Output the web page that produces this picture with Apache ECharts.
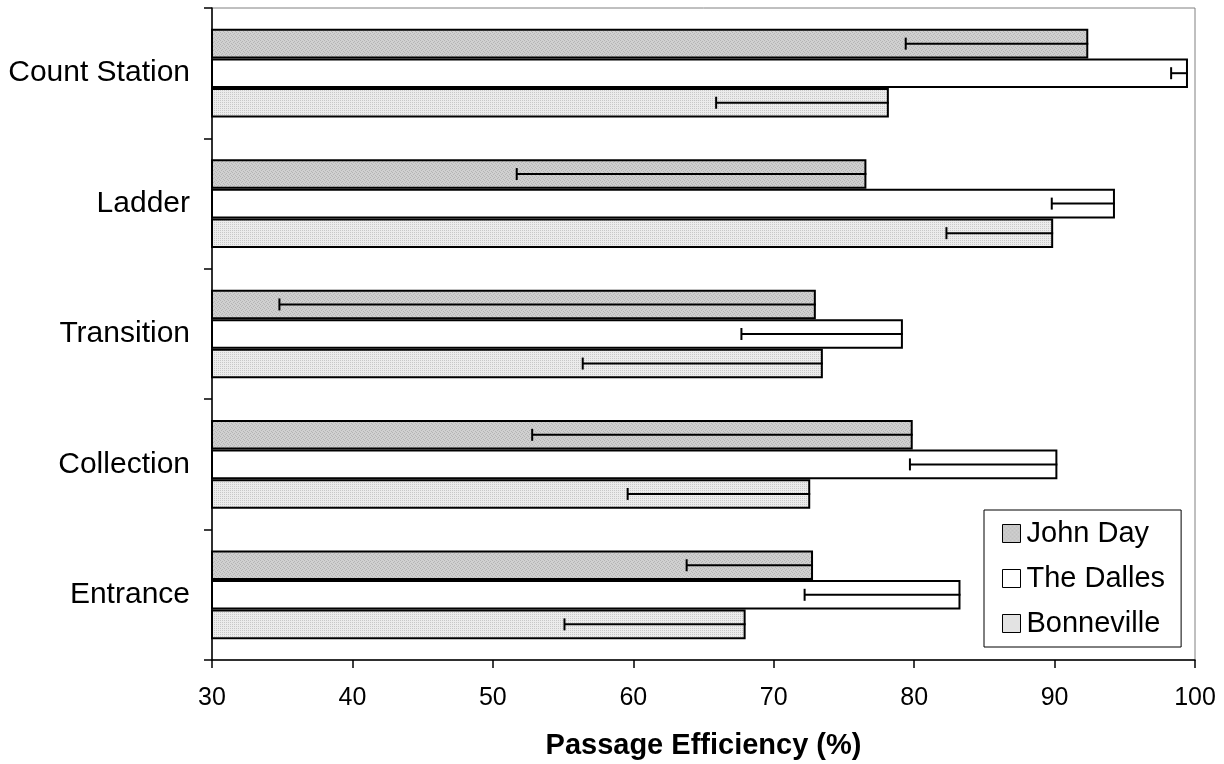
<!DOCTYPE html>
<html>
<head>
<meta charset="utf-8">
<script src="https://cdn.jsdelivr.net/npm/echarts@6/dist/echarts.min.js"></script>
<style>
html,body{margin:0;padding:0;background:#fff;}
#chart{width:1224px;height:764px;}
</style>
</head>
<body>
<div id="chart"></div>
<script>
// Data (bottom to top on the category axis)
const categories = ['Entrance', 'Collection', 'Transition', 'Ladder', 'Count Station'];
const seriesNames = ['John Day', 'The Dalles', 'Bonneville'];
const johnDay = [72.8, 79.9, 73.0, 76.6, 92.4];
const theDalles = [83.3, 90.2, 79.2, 94.3, 99.5];
const bonneville = [68.0, 72.6, 73.5, 89.9, 78.2];
// lower error bar ends
const johnDayLow = [63.8, 52.8, 34.8, 51.7, 79.4];
const theDallesLow = [72.2, 79.7, 67.7, 89.8, 98.3];
const bonnevilleLow = [55.1, 59.6, 56.4, 82.3, 65.9];
const xTicks = { min: 30, max: 100, interval: 10 };

function makePattern(base, dot, cells) {
  const c = document.createElement('canvas');
  c.width = 4; c.height = 4;
  const ctx = c.getContext('2d');
  ctx.fillStyle = base; ctx.fillRect(0, 0, 4, 4);
  ctx.fillStyle = dot;
  cells.forEach(p => ctx.fillRect(p[0], p[1], 1, 1));
  return { image: c, repeat: 'repeat' };
}
const jdFill = makePattern('#d0d0d0', '#b4b4b4', [[0,0],[2,1],[1,2],[3,3]]);
const bnFill = makePattern('#ececec', '#c8c8c8', [[0,0],[2,0],[0,2],[2,2]]);
const fills = [jdFill, '#ffffff', bnFill];
const values = [johnDay, theDalles, bonneville];
const lows = [johnDayLow, theDallesLow, bonnevilleLow];

const CAT_GAP = 0.32;

const chart = echarts.init(document.getElementById('chart'), null, { renderer: 'canvas' });

const barSeries = seriesNames.map((name, k) => ({
  name: name,
  type: 'bar',
  data: values[k],
  barGap: '0%',
  barCategoryGap: (CAT_GAP * 100) + '%',
  itemStyle: { color: fills[k], borderColor: '#000', borderWidth: 2 },
  emphasis: { disabled: true },
  z: 2
}));

const errSeries = seriesNames.map((name, k) => ({
  name: name,
  type: 'custom',
  z: 3,
  silent: true,
  data: categories.map((c, i) => [lows[k][i], values[k][i], i]),
  encode: { x: [0, 1], y: 2 },
  renderItem: function (params, api) {
    const lo = api.value(0), hi = api.value(1), ci = api.value(2);
    const pLo = api.coord([lo, ci]);
    const pHi = api.coord([hi, ci]);
    const band = api.size([0, 1])[1];
    const w = band * (1 - CAT_GAP) / 3;
    const y = pLo[1] - band * (1 - CAT_GAP) / 2 + w * (k + 0.5);
    const cap = 12;
    const st = { stroke: '#000', lineWidth: 2 };
    return {
      type: 'group',
      children: [
        { type: 'line', shape: { x1: pLo[0], y1: y, x2: pHi[0], y2: y }, style: st },
        { type: 'line', shape: { x1: pLo[0], y1: y - cap / 2, x2: pLo[0], y2: y + cap / 2 }, style: st }
      ]
    };
  }
}));

const option = {
  animation: false,
  backgroundColor: '#ffffff',
  textStyle: { fontFamily: 'Liberation Sans, Arial, sans-serif', color: '#000' },
  grid: {
    left: 212, right: 29, top: 8, bottom: 104,
    outerBoundsMode: 'none',
    containLabel: false,
    show: true, borderColor: '#808080', borderWidth: 1, backgroundColor: 'transparent'
  },
  legend: {
    data: seriesNames,
    orient: 'vertical',
    left: 984, top: 510,
    itemWidth: 18, itemHeight: 18,
    itemGap: 16,
    padding: [9, 16, 9, 18],
    borderColor: '#000', borderWidth: 1,
    backgroundColor: '#fff',
    icon: 'rect',
    itemStyle: { borderColor: '#000', borderWidth: 1 },
    textStyle: { fontSize: 29, color: '#000', fontFamily: 'Liberation Sans, Arial, sans-serif', padding: [0, 0, 0, 1] },
    selectedMode: false
  },
  xAxis: {
    type: 'value',
    min: xTicks.min, max: xTicks.max, interval: xTicks.interval,
    name: 'Passage Efficiency (%)',
    nameLocation: 'middle',
    nameGap: 71,
    nameTextStyle: { fontSize: 29, fontWeight: 'bold', color: '#000' },
    axisLine: { show: true, lineStyle: { color: '#000', width: 1.5 } },
    axisTick: { show: true, inside: false, length: 8, lineStyle: { color: '#000', width: 1.5 } },
    axisLabel: { fontSize: 25, color: '#000', margin: 26 },
    splitLine: { show: false }
  },
  yAxis: {
    type: 'category',
    data: categories,
    axisLine: { show: true, lineStyle: { color: '#000', width: 1.5 } },
    axisTick: { show: true, inside: false, length: 8, alignWithLabel: false, lineStyle: { color: '#000', width: 1.5 } },
    axisLabel: { fontSize: 30, color: '#000', margin: 22 },
    splitLine: { show: false }
  },
  series: barSeries.concat(errSeries)
};
chart.setOption(option);
</script>
</body>
</html>
